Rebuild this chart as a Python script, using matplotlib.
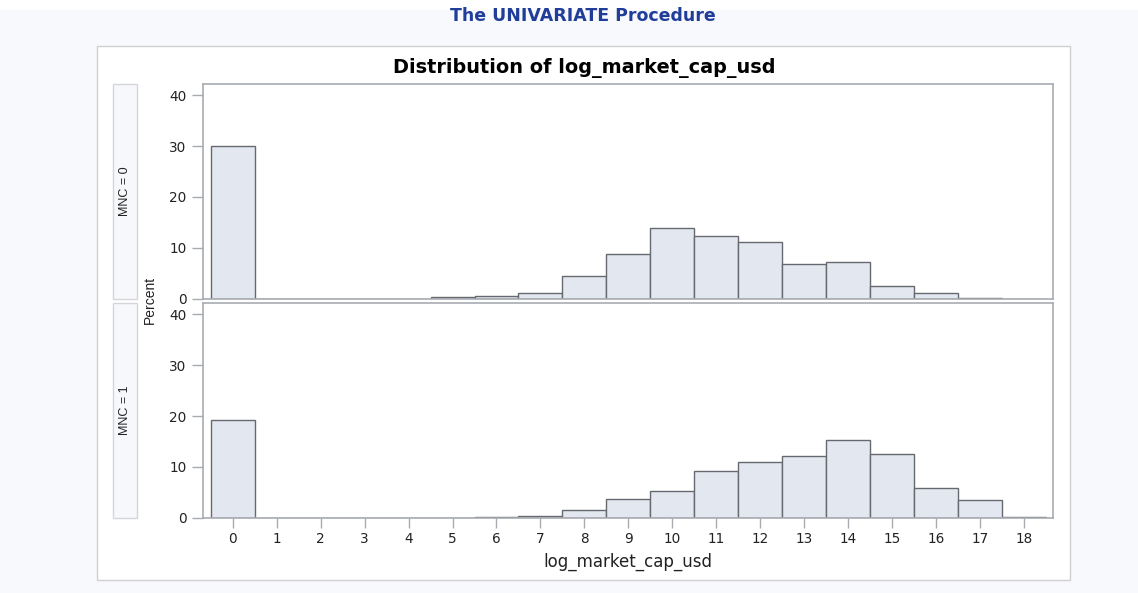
import matplotlib
matplotlib.use("Agg")
import matplotlib.pyplot as plt
from matplotlib.patches import Rectangle

plt.rcParams['font.family'] = ['DejaVu Sans']

# histogram bins (midpoints) and percent per bin, by MNC group
bins = list(range(0, 19))
pct_mnc0 = [30.0, 0, 0, 0, 0, 0.25, 0.45, 1.2, 4.4, 8.85, 13.9, 12.4, 11.2,
            6.8, 7.3, 2.4, 1.1, 0.2, 0]
pct_mnc1 = [19.3, 0, 0, 0, 0, 0, 0.2, 0.4, 1.6, 3.7, 5.2, 9.2, 11.0,
            12.1, 15.3, 12.5, 5.9, 3.5, 0.2]
groups = ['MNC = 0', 'MNC = 1']
yticks = [0, 10, 20, 30, 40]

W, H = 1138, 593
fig = plt.figure(figsize=(W / 100, H / 100), dpi=100)
fig.patch.set_facecolor('#f8f9fc')


def box(x0, y0, x1, y1):
    # pixel box (top-left origin) -> figure fraction rect
    return [x0 / W, 1 - y1 / H, (x1 - x0) / W, (y1 - y0) / H]


# white strip at the very top and the white graph area with its border
fig.patches.append(Rectangle((0, 1 - 10 / H), 1, 10 / H, transform=fig.transFigure,
                             facecolor='white', edgecolor='none', zorder=0))
fig.patches.append(Rectangle((97 / W, 1 - 580 / H), (1070 - 97) / W, (580 - 46) / H,
                             transform=fig.transFigure, facecolor='white',
                             edgecolor='#d0d0d0', linewidth=1, zorder=0))

fig.text(583 / W, 1 - 16 / H, 'The UNIVARIATE Procedure', ha='center', va='center',
         fontsize=12.5, fontweight='bold', color='#1f3d99')
fig.text(584 / W, 1 - 68 / H, 'Distribution of log_market_cap_usd', ha='center',
         va='center', fontsize=13.9, fontweight='bold', color='black')

panels = [(84, 298.7), (303.3, 517.7)]
bar_face = '#e3e7f0'
bar_edge = '#666a70'
frame = '#a8abb0'

for i, (data, label, (top, bot)) in enumerate(zip([pct_mnc0, pct_mnc1], groups, panels)):
    ax = fig.add_axes(box(203.3, top, 1053, bot))
    ax.set_zorder(3)
    ax.bar(bins, data, width=1.0, color=bar_face, edgecolor=bar_edge, linewidth=1.0)
    ax.set_xlim(-0.67, 18.66)
    ax.set_ylim(0, 42.2)
    ax.set_yticks(yticks)
    for s in ax.spines.values():
        s.set_color(frame)
        s.set_linewidth(1.2)
    ax.tick_params(axis='y', length=8, width=1, color=frame, labelsize=9.8,
                   labelcolor='#222222', pad=4)
    if i == 0:
        ax.tick_params(axis='x', bottom=False, labelbottom=False)
    else:
        ax.set_xticks(bins)
        ax.tick_params(axis='x', length=7, width=1, color=frame, labelsize=9.8,
                       labelcolor='#222222', pad=3)
        ax.set_xlabel('log_market_cap_usd', fontsize=12, color='#222222', labelpad=5)

    # group strip on the left
    fig.patches.append(Rectangle((113 / W, 1 - bot / H), (137 - 113) / W, (bot - top) / H,
                                 transform=fig.transFigure, facecolor='#f7f8fc',
                                 edgecolor='#d4d6da', linewidth=1, zorder=1))
    fig.text(125 / W, 1 - (top + bot) / 2 / H, label, rotation=90, ha='center',
             va='center', fontsize=9, color='#222222',
             family=['Liberation Sans Narrow', 'Liberation Sans'])

fig.text(150 / W, 1 - 300 / H, 'Percent', rotation=90, ha='center', va='center',
         fontsize=10, color='#222222', family=['Liberation Sans Narrow', 'Liberation Sans'])

fig.savefig('out.png', dpi=100, facecolor=fig.get_facecolor())
